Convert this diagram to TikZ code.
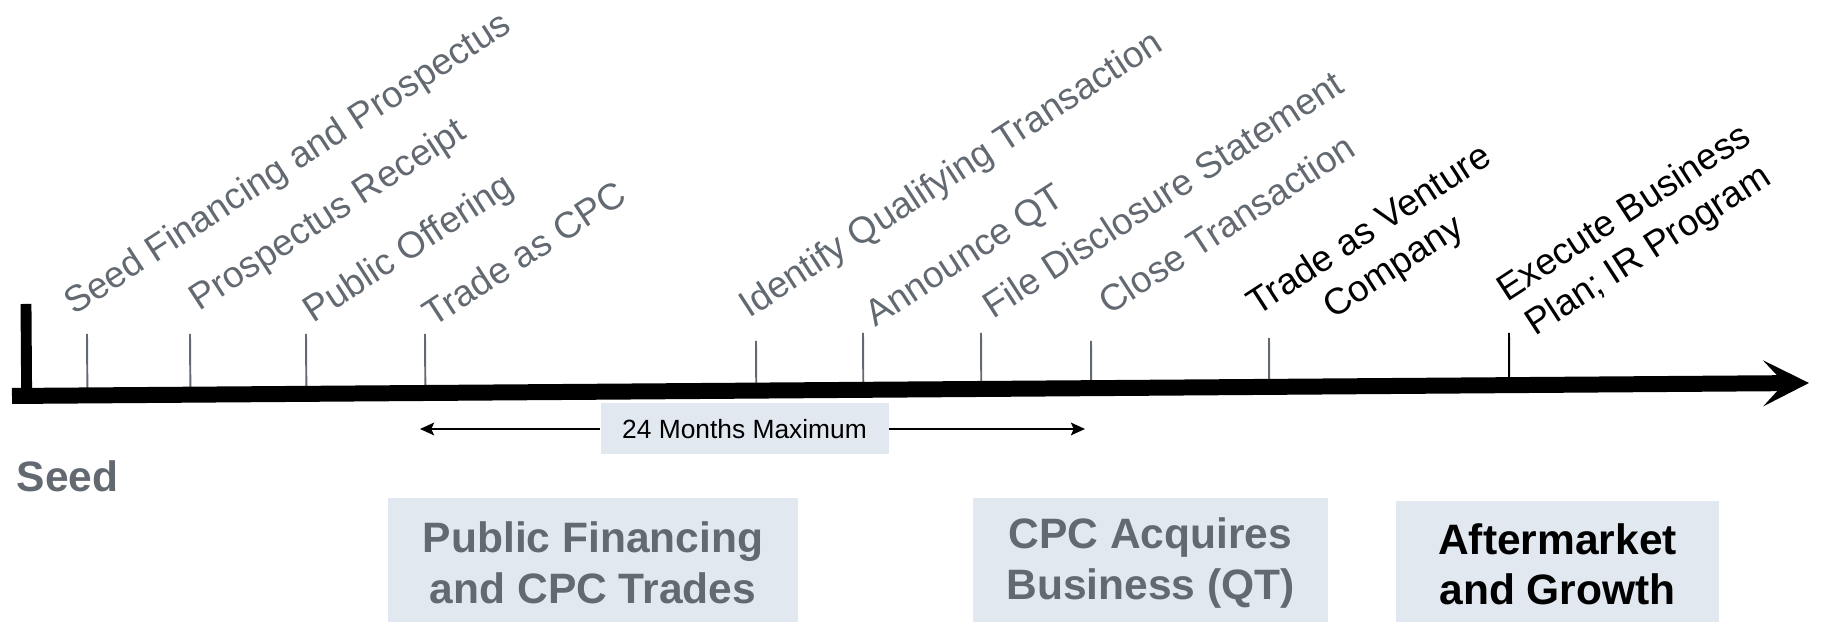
\documentclass[tikz,border=0pt]{standalone}
\usepackage{fontspec}
\setmainfont{Liberation Sans}
\usetikzlibrary{arrows.meta,calc}

\definecolor{stepgray}{RGB}{98,105,113}
\definecolor{phasefill}{RGB}{225,232,240}

\tikzset{
  tickline/.style={line width=0.55pt, draw=stepgray},
  milestone/.style={rotate=33, anchor=base west, inner sep=0pt,
    font=\fontsize{10.5}{12.6}\selectfont, text=stepgray},
  phase/.style={fill=phasefill, anchor=south, align=center, inner sep=0pt,
    minimum height=1.29cm, font=\fontsize{12.1}{14.4}\selectfont\bfseries},
  spanarrow/.style={line width=0.6pt, -{Stealth[length=4pt,width=3.6pt,inset=0.8pt]}}
}

\begin{document}
\begin{tikzpicture}

    \useasboundingbox (0,0) rectangle (18.24,6.22);

    % Time axis
    \coordinate (axl) at (0.12,2.26);
    \coordinate (axr) at (18.09,2.39);
    \coordinate (bartop) at (0.26,3.18);

    % Ticks
    \coordinate (t1) at (0.87,2.88);
    \coordinate (t2) at (1.90,2.88);
    \coordinate (t3) at (3.06,2.88);
    \coordinate (t4) at (4.25,2.88);
    \coordinate (t5) at (7.56,2.81);
    \coordinate (t6) at (8.63,2.89);
    \coordinate (t7) at (9.81,2.89);
    \coordinate (t8) at (10.91,2.81);
    \coordinate (t9) at (12.69,2.84);
    \coordinate (t10) at (15.09,2.89);
    \draw[tickline] (t1) -- ($(axl)!(t1)!(axr)$);
    \draw[tickline] (t2) -- ($(axl)!(t2)!(axr)$);
    \draw[tickline] (t3) -- ($(axl)!(t3)!(axr)$);
    \draw[tickline] (t4) -- ($(axl)!(t4)!(axr)$);
    \draw[tickline] (t5) -- ($(axl)!(t5)!(axr)$);
    \draw[tickline] (t6) -- ($(axl)!(t6)!(axr)$);
    \draw[tickline] (t7) -- ($(axl)!(t7)!(axr)$);
    \draw[tickline] (t8) -- ($(axl)!(t8)!(axr)$);
    \draw[tickline] (t9) -- ($(axl)!(t9)!(axr)$);
    \draw[tickline, draw=black] (t10) -- ($(axl)!(t10)!(axr)$);

    \draw[line width=3.1pt] (bartop) -- ($(axl)!(bartop)!(axr)$);
    \draw[line width=4.55pt, -{Stealth[length=13pt,width=13pt,inset=6pt]}] (axl) -- (axr);

    % Milestones (rotated)
    \node[milestone] (seedfin)   at (0.74,3.06)  {Seed Financing and Prospectus};
    \node[milestone] (receipt)   at (1.99,3.10)  {Prospectus Receipt};
    \node[milestone] (offering)  at (3.13,2.98)  {Public Offering};
    \node[milestone] (tradecpc)  at (4.33,2.94)  {Trade as CPC};
    \node[milestone] (identify)  at (7.49,3.03)  {Identify Qualifying Transaction};
    \node[milestone] (announce)  at (8.75,2.94)  {Announce QT};
    \node[milestone] (disclose)  at (9.93,3.02)  {File Disclosure Statement};
    \node[milestone] (closetx)   at (11.09,3.06) {Close Transaction};
    \node[milestone, anchor=center, align=center, text=black] (venture) at (13.82,3.72) {Trade as Venture\\Company};
    \node[milestone, anchor=center, align=center, text=black] (execute) at (16.37,3.89) {Execute Business\\Plan; IR Program};

    % 24 month span
    \node[fill=phasefill, minimum width=2.88cm, minimum height=0.51cm, inner sep=0pt,
          font=\fontsize{7.5}{9}\selectfont] (months) at (7.445,1.93) {24 Months Maximum};
    \coordinate (mleft) at (4.20,1.93);
    \coordinate (mright) at (10.85,1.93);
    \draw[spanarrow] (months.west) -- (mleft);
    \draw[spanarrow] (months.east) -- (mright);

    % Phases
    \node[anchor=base west, inner sep=0pt, text=stepgray,
          font=\fontsize{12.1}{14}\selectfont\bfseries] (seed) at (0.16,1.30) {Seed};
    \node[phase, text=stepgray, minimum width=4.10cm] (pubfin) at (5.93,-0.06) {Public Financing\\and CPC Trades};
    \node[phase, text=stepgray, minimum width=3.55cm] (acquire) at (11.505,-0.06) {CPC Acquires\\Business (QT)};
    \node[phase, text=black, minimum width=3.23cm, minimum height=1.26cm] (growth) at (15.575,-0.06) {Aftermarket\\and Growth};

\end{tikzpicture}
\end{document}
